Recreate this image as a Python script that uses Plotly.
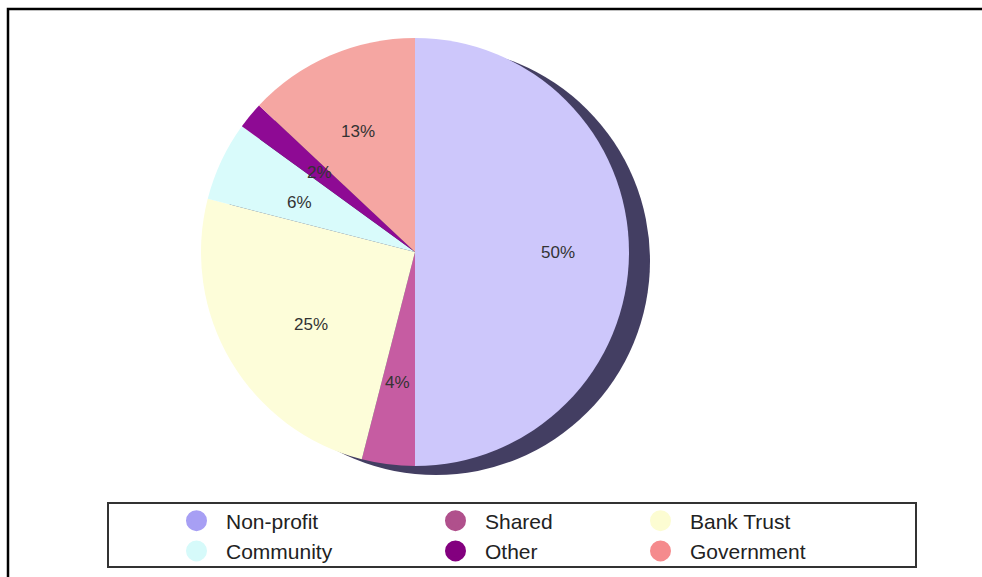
import math
import plotly.graph_objects as go

categories = ["Non-profit", "Shared", "Bank Trust", "Community", "Other", "Government"]
values = [50, 4, 25, 6, 2, 13]
slice_colors = ["#cdc7fb", "#c65ca2", "#fdfdd9", "#d9fbfb", "#8e0a94", "#f5a6a2"]
legend_colors = ["#a79ff4", "#b0508c", "#fcfcd2", "#d6fafa", "#83007f", "#f58b8d"]
legend_columns = ["legend", "legend2", "legend3", "legend", "legend2", "legend3"]

W, H = 982, 577
CX, CY, R = 415, 252, 214  # pie centre / radius in pixels


def px(x):
    return x / W


def py(y):
    return (H - y) / H


fig = go.Figure()

fig.add_trace(go.Pie(
    labels=categories,
    values=values,
    sort=False,
    direction="clockwise",
    rotation=0,
    marker=dict(colors=slice_colors, line=dict(width=0)),
    textinfo="none",
    domain=dict(x=[px(CX - R), px(CX + R)], y=[py(CY + R), py(CY - R)]),
    showlegend=False,
    hoverinfo="label+percent",
))

for name, col, lg in zip(categories, legend_colors, legend_columns):
    fig.add_trace(go.Scatter(
        x=[None], y=[None], mode="markers", name=name, legend=lg,
        marker=dict(symbol="circle", size=16, color=col, line=dict(color=col, width=5)),
        showlegend=True,
    ))

# percentage labels placed at the middle angle of each slice
total = sum(values)
annotations = []
cum = 0
for v in values:
    mid = (cum + v / 2) / total * 2 * math.pi
    cum += v
    rr = 0.67 * R
    x = CX + rr * math.sin(mid)
    y = CY - rr * math.cos(mid)
    annotations.append(dict(
        x=px(x), y=py(y), xref="paper", yref="paper", showarrow=False,
        text=f"{round(v / total * 100)}%",
        font=dict(family="Liberation Sans, Arial, sans-serif", size=17, color="#333333"),
    ))

shapes = [
    # shadow behind the pie
    dict(type="circle", xref="paper", yref="paper", layer="below",
         x0=px(CX - R + 21), x1=px(CX + R + 21), y0=py(CY + R + 9), y1=py(CY - R + 9),
         fillcolor="#433e62", line=dict(width=0)),
    # outer frame
    dict(type="rect", xref="paper", yref="paper", layer="above",
         x0=px(8), x1=1.05, y0=-0.05, y1=py(9),
         line=dict(color="#000000", width=2.5), fillcolor="rgba(0,0,0,0)"),
    # legend box
    dict(type="rect", xref="paper", yref="paper", layer="above",
         x0=px(108), x1=px(916), y0=py(567), y1=py(503),
         line=dict(color="#333333", width=2), fillcolor="rgba(0,0,0,0)"),
]

legend_font = dict(family="Liberation Sans, Arial, sans-serif", size=21, color="#222222")


def legend_at(xpix):
    return dict(
        orientation="v",
        x=px(xpix), xanchor="left",
        y=py(536), yanchor="middle",
        bgcolor="rgba(0,0,0,0)", borderwidth=0,
        font=legend_font, itemsizing="trace", itemwidth=49,
    )


fig.update_layout(
    width=W, height=H,
    margin=dict(l=0, r=0, t=0, b=0),
    paper_bgcolor="white",
    plot_bgcolor="white",
    xaxis=dict(visible=False),
    yaxis=dict(visible=False),
    shapes=shapes,
    annotations=annotations,
    showlegend=True,
    legend=legend_at(167),
    legend2=legend_at(426),
    legend3=legend_at(631),
)

fig.write_html("out.html", config={"displayModeBar": False},
               post_script="document.body.style.margin='0px';")
